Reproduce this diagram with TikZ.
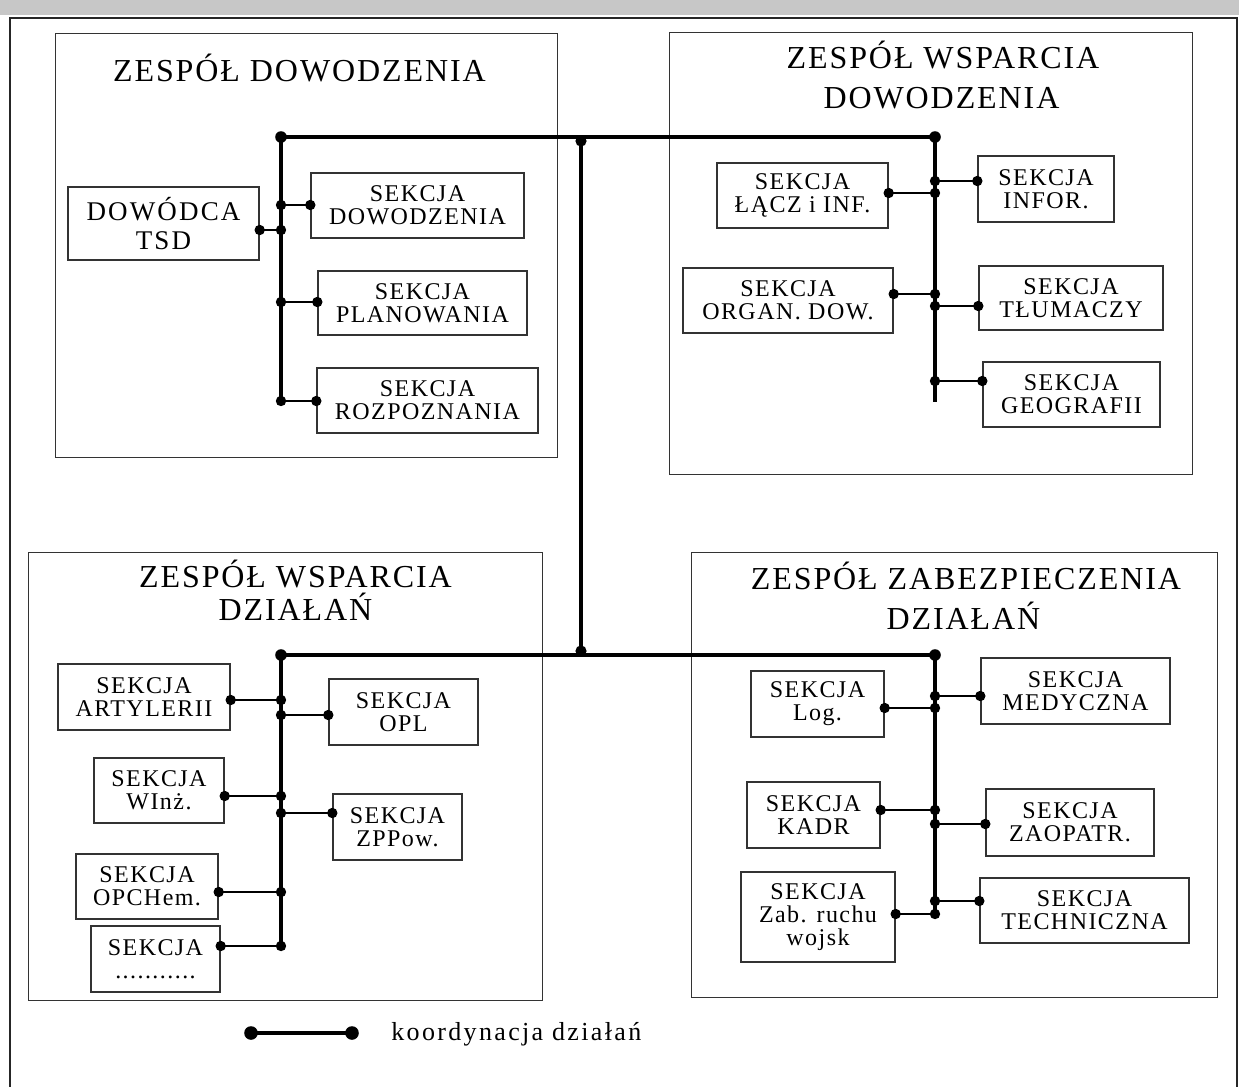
\documentclass[tikz,border=0pt]{standalone}
\usepackage{fontspec}
\setmainfont{Liberation Serif}
\newfontfamily\secfont[LetterSpace=6]{Liberation Serif}
\newfontfamily\titfont[LetterSpace=6]{Liberation Serif}
\newfontfamily\dowfont[LetterSpace=8]{Liberation Serif}
\newfontfamily\legfont[LetterSpace=9]{Liberation Serif}
\newcommand{\hookup}[3]{%
  \draw[link] (#1 |- 0,#2) -- (#3 |- 0,#2);
  \fill (#1 |- 0,#2) circle[radius=2.6pt];
  \fill (#3 |- 0,#2) circle[radius=2.6pt];
}
\begin{document}
\begin{tikzpicture}[x=0.5pt,y=-0.5pt,
  grp/.style={draw=black!80, line width=0.7pt, anchor=north west, inner sep=0pt},
  sbox/.style={draw=black!80, line width=0.7pt, inner sep=0pt, align=center, text=black,
    font=\secfont\fontsize{12}{11.5}\selectfont},
  ttl/.style={anchor=base, inner sep=0pt, text=black, font=\titfont\fontsize{16}{19}\selectfont},
  bus/.style={line width=1.6pt},
  link/.style={line width=1.1pt},
]
\useasboundingbox (0,0) rectangle (1239,1087);
\fill[white] (0,0) rectangle (1239,1087);
\fill[black!22] (0,0) rectangle (1239,15);
% outer frame
\draw[line width=0.9pt, black!85] (10,1087) -- (10,18) -- (1237,18) -- (1237,1087);

% group boxes
\node[grp, minimum width=251pt, minimum height=212pt] (gTL) at (55,33) {};
\node[grp, minimum width=261.5pt, minimum height=221pt] (gTR) at (669,32) {};
\node[grp, minimum width=257pt, minimum height=224pt] (gBL) at (28,552) {};
\node[grp, minimum width=263pt, minimum height=222.5pt] (gBR) at (691,552) {};

% titles
\node[ttl] (tTL) at (299.5,81) {ZESPÓŁ DOWODZENIA};
\node[ttl] (tTR1) at (943,68) {ZESPÓŁ WSPARCIA};
\node[ttl] (tTR2) at (941.5,108) {DOWODZENIA};
\node[ttl] (tBL1) at (295.5,587) {ZESPÓŁ WSPARCIA};
\node[ttl] (tBL2) at (295.5,620) {DZIAŁAŃ};
\node[ttl] (tBR1) at (966,589) {ZESPÓŁ ZABEZPIECZENIA};
\node[ttl] (tBR2) at (963.5,629) {DZIAŁAŃ};

% top-left sections
\node[sbox, minimum width=95.5pt, minimum height=36.5pt,
  font=\dowfont\fontsize{13.5}{14.5}\selectfont] (dow) at (163.5,223.5) {DOWÓDCA\\TSD};
\node[sbox, minimum width=106.5pt, minimum height=32.5pt] (sdow) at (417.5,205.5) {SEKCJA\\DOWODZENIA};
\node[sbox, minimum width=104.5pt, minimum height=32pt] (splan) at (422.5,303) {SEKCJA\\PLANOWANIA};
\node[sbox, minimum width=110.5pt, minimum height=32.5pt] (sroz) at (427.5,400.5) {SEKCJA\\ROZPOZNANIA};

% top-right sections
\node[sbox, minimum width=85.5pt, minimum height=32.5pt] (slacz) at (802.5,195.5) {SEKCJA\\ŁĄCZ i INF.};
\node[sbox, minimum width=68pt, minimum height=33pt] (sinfor) at (1046,189) {SEKCJA\\INFOR.};
\node[sbox, minimum width=105pt, minimum height=32.5pt] (sorg) at (788,300.5) {SEKCJA\\ORGAN. DOW.};
\node[sbox, minimum width=92pt, minimum height=32pt] (stlum) at (1071,298) {SEKCJA\\TŁUMACZY};
\node[sbox, minimum width=88.5pt, minimum height=32.5pt] (sgeo) at (1071.5,394.5) {SEKCJA\\GEOGRAFII};

% bottom-left sections
\node[sbox, minimum width=86pt, minimum height=33pt] (sart) at (144,697) {SEKCJA\\ARTYLERII};
\node[sbox, minimum width=74.5pt, minimum height=33pt] (sopl) at (403.5,712) {SEKCJA\\OPL};
\node[sbox, minimum width=65pt, minimum height=32.5pt] (swinz) at (159,790.5) {SEKCJA\\WInż.};
\node[sbox, minimum width=64.5pt, minimum height=33pt] (szpp) at (397.5,827) {SEKCJA\\ZPPow.};
\node[sbox, minimum width=71pt, minimum height=32.5pt] (sopch) at (147,886.5) {SEKCJA\\OPCHem.};
\node[sbox, minimum width=64.5pt, minimum height=33pt] (sdots) at (155.5,959) {SEKCJA\\...........};

% bottom-right sections
\node[sbox, minimum width=66.5pt, minimum height=33pt] (slog) at (817.5,704) {SEKCJA\\Log.};
\node[sbox, minimum width=94.5pt, minimum height=33pt] (smed) at (1075.5,691) {SEKCJA\\MEDYCZNA};
\node[sbox, minimum width=66.5pt, minimum height=33pt] (skadr) at (813.5,815) {SEKCJA\\KADR};
\node[sbox, minimum width=84pt, minimum height=33.5pt] (szaop) at (1070,822.5) {SEKCJA\\ZAOPATR.};
\node[sbox, minimum width=77pt, minimum height=45pt] (szab) at (818,917) {SEKCJA\\Zab. ruchu\\wojsk};
\node[sbox, minimum width=104.5pt, minimum height=32.5pt] (stech) at (1084.5,910.5) {SEKCJA\\TECHNICZNA};

% bus coordinates
\coordinate (tlA) at (281,137);
\coordinate (tlB) at (281,401);
\coordinate (trA) at (935,137);
\coordinate (trB) at (935,402);
\coordinate (cA) at (581,137);
\coordinate (cB) at (581,655);
\coordinate (blA) at (281,655);
\coordinate (blB) at (281,946);
\coordinate (brA) at (935,655);
\coordinate (brB) at (935,918);

% main coordination lines
\draw[line width=1.8pt] (tlA) -- (trA);
\draw[line width=1.8pt] (blA) -- (brA);
\draw[bus] (cA) -- (cB);
\draw[bus] (tlA) -- (tlB);
\draw[bus] (trA) -- (trB);
\draw[bus] (blA) -- (blB);
\draw[bus] (brA) -- (brB);
\foreach \p in {tlA,trA,blA,brA} \fill (\p) circle[radius=2.9pt];
\fill ([yshift=-2pt]cA) circle[radius=2.8pt];
\fill ([yshift=2pt]cB) circle[radius=2.8pt];

% top-left links
\hookup{tlA}{230}{dow.east}
\hookup{tlA}{205}{sdow.west}
\hookup{tlA}{302}{splan.west}
\hookup{tlA}{401}{sroz.west}
% top-right links
\hookup{trA}{193}{slacz.east}
\hookup{trA}{181}{sinfor.west}
\hookup{trA}{294}{sorg.east}
\hookup{trA}{306}{stlum.west}
\hookup{trA}{381}{sgeo.west}
% bottom-left links
\hookup{blA}{700}{sart.east}
\hookup{blA}{715}{sopl.west}
\hookup{blA}{796}{swinz.east}
\hookup{blA}{813}{szpp.west}
\hookup{blA}{892}{sopch.east}
\hookup{blA}{946}{sdots.east}
% bottom-right links
\hookup{brA}{708}{slog.east}
\hookup{brA}{696}{smed.west}
\hookup{brA}{810}{skadr.east}
\hookup{brA}{824}{szaop.west}
\hookup{brA}{914}{szab.east}
\hookup{brA}{901}{stech.west}

% legend
\coordinate (legA) at (251,1033);
\coordinate (legB) at (352,1033);
\draw[line width=1.8pt] (legA) -- (legB);
\fill (legA) circle[radius=3.4pt];
\fill (legB) circle[radius=3.4pt];
\node[anchor=base west, inner sep=0pt, text=black, font=\legfont\fontsize{13}{15}\selectfont] (leg) at (391,1040) {koordynacja działań};
\end{tikzpicture}
\end{document}
